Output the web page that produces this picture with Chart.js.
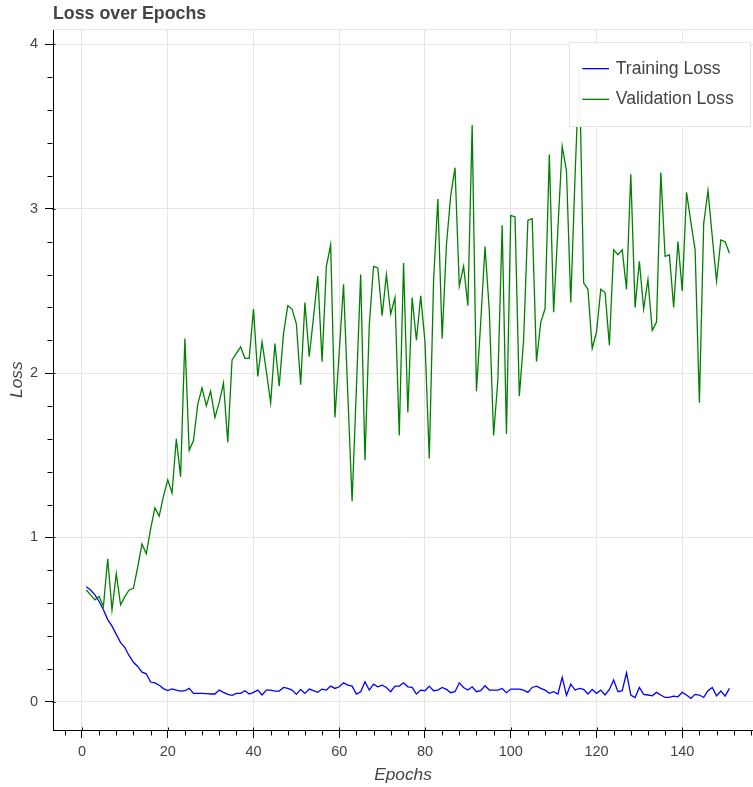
<!DOCTYPE html>
<html>
<head>
<meta charset="utf-8">
<title>Loss over Epochs</title>
<script src="https://cdn.jsdelivr.net/npm/chart.js@4.4.0/dist/chart.umd.min.js"></script>
<style>
  html, body { margin: 0; padding: 0; background: #fff; overflow: hidden; }
  #wrap { width: 753px; height: 787px; }
</style>
</head>
<body>
<div id="wrap"><canvas id="lossChart" width="753" height="787"></canvas></div>
<script>
// epochs 1..151
const epochs = [
  1, 2, 3, 4, 5, 6, 7, 8, 9, 10, 11, 12, 13, 14, 15, 16, 17, 18, 19, 20,
  21, 22, 23, 24, 25, 26, 27, 28, 29, 30, 31, 32, 33, 34, 35, 36, 37, 38, 39, 40,
  41, 42, 43, 44, 45, 46, 47, 48, 49, 50, 51, 52, 53, 54, 55, 56, 57, 58, 59, 60,
  61, 62, 63, 64, 65, 66, 67, 68, 69, 70, 71, 72, 73, 74, 75, 76, 77, 78, 79, 80,
  81, 82, 83, 84, 85, 86, 87, 88, 89, 90, 91, 92, 93, 94, 95, 96, 97, 98, 99, 100,
  101, 102, 103, 104, 105, 106, 107, 108, 109, 110, 111, 112, 113, 114, 115, 116, 117, 118, 119, 120,
  121, 122, 123, 124, 125, 126, 127, 128, 129, 130, 131, 132, 133, 134, 135, 136, 137, 138, 139, 140,
  141, 142, 143, 144, 145, 146, 147, 148, 149, 150, 151
];

const trainLoss = [
  0.70, 0.68, 0.65, 0.61, 0.56, 0.50, 0.46, 0.41, 0.36, 0.33,
  0.28, 0.24, 0.215, 0.18, 0.17, 0.12, 0.115, 0.10, 0.08, 0.068,
  0.078, 0.071, 0.065, 0.067, 0.081, 0.051, 0.051, 0.051, 0.049, 0.047,
  0.047, 0.071, 0.057, 0.045, 0.039, 0.051, 0.051, 0.067, 0.047, 0.057,
  0.071, 0.041, 0.071, 0.071, 0.065, 0.065, 0.087, 0.081, 0.071, 0.045,
  0.075, 0.051, 0.077, 0.067, 0.057, 0.077, 0.071, 0.095, 0.081, 0.091,
  0.115, 0.101, 0.095, 0.047, 0.061, 0.122, 0.071, 0.107, 0.091, 0.101,
  0.087, 0.061, 0.095, 0.095, 0.115, 0.091, 0.087, 0.047, 0.071, 0.067,
  0.095, 0.067, 0.071, 0.087, 0.075, 0.055, 0.061, 0.115, 0.087, 0.071,
  0.091, 0.061, 0.067, 0.097, 0.071, 0.071, 0.071, 0.081, 0.055, 0.077,
  0.077, 0.077, 0.071, 0.057, 0.087, 0.095, 0.081, 0.071, 0.051, 0.061,
  0.047, 0.148, 0.039, 0.107, 0.071, 0.081, 0.075, 0.047, 0.075, 0.051,
  0.071, 0.041, 0.075, 0.132, 0.061, 0.067, 0.176, 0.041, 0.026, 0.087,
  0.045, 0.041, 0.036, 0.057, 0.041, 0.026, 0.026, 0.034, 0.030, 0.057,
  0.041, 0.020, 0.045, 0.041, 0.026, 0.067, 0.087, 0.036, 0.065, 0.034,
  0.081
];

const valLoss = [
  0.68, 0.65, 0.62, 0.64, 0.58, 0.87, 0.56, 0.78, 0.59, 0.64,
  0.68, 0.69, 0.82, 0.96, 0.90, 1.05, 1.18, 1.13, 1.25, 1.35,
  1.27, 1.60, 1.37, 2.21, 1.53, 1.59, 1.81, 1.91, 1.80, 1.89,
  1.73, 1.82, 1.94, 1.58, 2.08, 2.12, 2.16, 2.09, 2.09, 2.39,
  1.98, 2.19, 2.01, 1.82, 2.18, 1.92, 2.24, 2.41, 2.39, 2.30,
  1.93, 2.43, 2.10, 2.34, 2.59, 2.07, 2.65, 2.78, 1.73, 2.13,
  2.54, 1.87, 1.22, 1.91, 2.60, 1.47, 2.29, 2.65, 2.64, 2.35,
  2.60, 2.36, 2.46, 1.62, 2.67, 1.76, 2.46, 2.20, 2.47, 2.19,
  1.48, 2.56, 3.06, 2.21, 2.78, 3.08, 3.25, 2.53, 2.65, 2.41,
  3.51, 1.89, 2.31, 2.77, 2.38, 1.62, 1.96, 2.90, 1.63, 2.96,
  2.95, 1.86, 2.20, 2.93, 2.94, 2.07, 2.31, 2.39, 3.33, 2.37,
  2.88, 3.38, 3.23, 2.43, 3.20, 3.88, 2.55, 2.51, 2.15, 2.25,
  2.51, 2.49, 2.17, 2.75, 2.72, 2.75, 2.51, 3.21, 2.40, 2.68,
  2.39, 2.57, 2.26, 2.31, 3.22, 2.71, 2.72, 2.40, 2.80, 2.50,
  3.10, 2.92, 2.75, 1.82, 2.91, 3.11, 2.83, 2.56, 2.81, 2.80,
  2.73
];

const xTicks = [0, 20, 40, 60, 80, 100, 120, 140];
const yTicks = [0, 1, 2, 3, 4];
const seriesNames = ['Training Loss', 'Validation Loss'];

const FONT = "'Liberation Sans', Helvetica, Arial, sans-serif";
const TEXT = '#444444';
const GRID = '#e5e5e5';

Chart.defaults.font.family = FONT;

// bokeh-ish bits chart.js doesn't do: minor ticks, inner tick marks, frame outline
const axisExtras = {
  id: 'axisExtras',
  beforeDatasetsDraw(chart) {
    const { ctx, chartArea } = chart;
    ctx.save();
    ctx.strokeStyle = GRID;
    ctx.lineWidth = 1;
    ctx.beginPath();
    ctx.moveTo(chartArea.left, Math.round(chartArea.top) + 0.5);
    ctx.lineTo(chartArea.right, Math.round(chartArea.top) + 0.5);
    ctx.stroke();
    ctx.restore();
  },
  afterDraw(chart) {
    const { ctx, chartArea } = chart;
    const x = chart.scales.x, y = chart.scales.y;
    const bottom = Math.round(chartArea.bottom) + 0.5;
    const left = Math.round(chartArea.left) - 0.5;
    ctx.save();
    ctx.strokeStyle = '#000';
    ctx.lineWidth = 1;
    ctx.beginPath();
    for (let v = -4; v <= x.max; v += 4) {
      if (v < x.min) continue;
      const px = Math.round(x.getPixelForValue(v)) + 0.5;
      if (v % 20 === 0) {
        ctx.moveTo(px, bottom - 3);
        ctx.lineTo(px, bottom);
      } else {
        ctx.moveTo(px, bottom);
        ctx.lineTo(px, bottom + 5);
      }
    }
    for (let i = -1; i <= 21; i++) {
      const v = i / 5;
      if (v < y.min || v > y.max) continue;
      const py = Math.round(y.getPixelForValue(v)) + 0.5;
      if (i % 5 === 0) {
        ctx.moveTo(left, py);
        ctx.lineTo(left + 3, py);
      } else {
        ctx.moveTo(left - 5, py);
        ctx.lineTo(left, py);
      }
    }
    ctx.stroke();
    ctx.restore();
  }
};

// legend box inside the plot, top right
const insideLegend = {
  id: 'insideLegend',
  afterDatasetsDraw(chart) {
    const { ctx } = chart;
    const pad = 13.3, glyph = 26.7, standoff = 6.7, rowH = 26.7, gap = 4;
    const left = 569, right = 749.5, top = 42;
    ctx.save();
    ctx.font = '17.6px ' + FONT;
    const sets = chart.data.datasets;
    const w = right - left;
    const h = pad * 2 + rowH * sets.length + gap * (sets.length - 1);
    ctx.fillStyle = 'rgba(255,255,255,0.95)';
    ctx.fillRect(left, top, w, h);
    ctx.strokeStyle = GRID;
    ctx.lineWidth = 1;
    ctx.strokeRect(left + 0.5, top + 0.5, Math.round(w), Math.round(h));
    sets.forEach((d, i) => {
      const cy = top + pad + rowH / 2 + i * (rowH + gap);
      ctx.strokeStyle = d.borderColor;
      ctx.lineWidth = 1.3;
      ctx.beginPath();
      ctx.moveTo(left + pad, cy);
      ctx.lineTo(left + pad + glyph, cy);
      ctx.stroke();
      ctx.fillStyle = TEXT;
      ctx.textBaseline = 'middle';
      ctx.textAlign = 'left';
      ctx.fillText(d.label, left + pad + glyph + standoff, cy);
    });
    ctx.restore();
  }
};

function createLossChart() {
  const ctx = document.getElementById('lossChart');
  if (!ctx) return;

  new Chart(ctx, {
    type: 'line',
    data: {
      datasets: [{
        label: seriesNames[0],
        data: epochs.map((e, i) => ({ x: e, y: trainLoss[i] })),
        borderColor: '#0000ff',
        borderWidth: 1.3,
        pointRadius: 0,
        tension: 0,
        order: 2
      }, {
        label: seriesNames[1],
        data: epochs.map((e, i) => ({ x: e, y: valLoss[i] })),
        borderColor: '#008000',
        borderWidth: 1.3,
        pointRadius: 0,
        tension: 0,
        order: 1
      }]
    },
    options: {
      responsive: false,
      animation: false,
      devicePixelRatio: 1,
      layout: { padding: 0 },
      scales: {
        x: {
          type: 'linear',
          min: -6.76,
          max: 156.5,
          afterFit: s => { s.height = 57; },
          afterBuildTicks: s => { s.ticks = xTicks.map(v => ({ value: v })); },
          ticks: { color: TEXT, font: { size: 14.5 }, padding: 5, maxRotation: 0 },
          grid: { color: GRID, tickColor: '#000', tickLength: 8, drawTicks: true },
          border: { display: true, color: '#000', width: 1 },
          title: {
            display: true,
            text: 'Epochs',
            color: TEXT,
            font: { size: 17.3, style: 'italic' },
            padding: { top: 0, bottom: 1 }
          }
        },
        y: {
          type: 'linear',
          min: -0.172,
          max: 4.092,
          afterFit: s => { s.width = 53; },
          afterBuildTicks: s => { s.ticks = yTicks.map(v => ({ value: v })); },
          ticks: { color: TEXT, font: { size: 14.5 }, padding: 7 },
          grid: { color: GRID, tickColor: '#000', tickLength: 8, drawTicks: true },
          border: { display: true, color: '#000', width: 1 },
          title: {
            display: true,
            text: 'Loss',
            color: TEXT,
            font: { size: 17.3, style: 'italic' },
            padding: { top: 7, bottom: 0 }
          }
        }
      },
      plugins: {
        legend: { display: false },
        tooltip: { enabled: false },
        title: {
          display: true,
          text: 'Loss over Epochs',
          align: 'start',
          fullSize: false,
          color: TEXT,
          font: { size: 17.8, weight: 'bold' },
          padding: { top: 3, bottom: 5 }
        }
      }
    },
    plugins: [axisExtras, insideLegend]
  });
}

document.addEventListener('DOMContentLoaded', () => {
  createLossChart();
});
</script>
</body>
</html>
